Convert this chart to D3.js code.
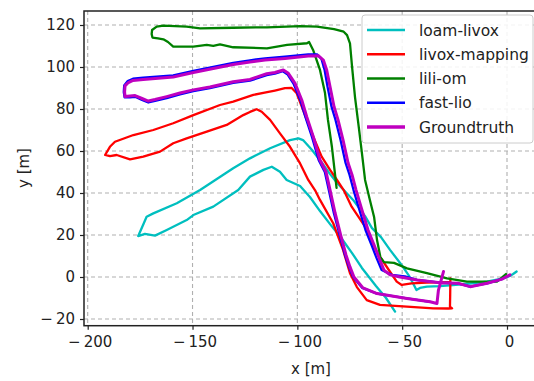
<!DOCTYPE html>
<html><head><meta charset="utf-8">
<script src="https://cdn.jsdelivr.net/npm/d3@7"></script>
<style>
html,body{margin:0;padding:0;background:#fff;}
svg{display:block;font-family:"DejaVu Sans",sans-serif;}
</style></head>
<body><svg id="c" width="534" height="381"></svg>
<script>
// ---- data (metres) ----
const seriesNames = ["loam-livox","livox-mapping","lili-om","fast-lio","Groundtruth"];
const seriesColors = ["#00bfbf","#ff0000","#008000","#0000ff","#bf00bf"];
const xTicks = [-200,-150,-100,-50,0];
const yTicks = [-20,0,20,40,60,80,100,120];

const loamLivox = [[4.6,2.6],[2.9,1.4],[1.4,0.5],[-1.9,-0.6],[-9.5,-2.2],[-17.6,-3.1],[-25.8,-3.8],[-32.0,-4.3],[-38.2,-4.6],[-41.5,-5.2],[-43.2,-6.2],[-44.4,-3.8],[-46.7,0.5],[-51.0,6.7],[-55.8,12.9],[-60.1,19.0],[-64.4,23.3],[-67.7,29.0],[-73.4,36.7],[-80.6,44.3],[-84.4,49.0],[-88.2,54.3],[-93.0,60.5],[-97.3,65.2],[-99.5,66.0],[-103.5,65.2],[-113.0,61.3],[-122.6,56.5],[-130.6,51.8],[-146.4,41.4],[-157.5,35.1],[-168.7,30.3],[-171.9,28.7],[-173.6,24.8],[-175.9,19.5],[-172.7,20.5],[-167.9,19.7],[-162.3,22.4],[-152.8,27.1],[-149.6,29.5],[-140.1,33.5],[-128.2,41.4],[-122.6,47.8],[-116.2,51.0],[-112.2,52.5],[-108.3,50.1],[-105.1,46.2],[-98.7,43.3],[-94.0,38.1],[-89.2,31.4],[-84.4,25.2],[-78.7,18.1],[-73.9,11.4],[-69.2,4.3],[-62.5,-4.3],[-57.7,-10.0],[-53.4,-16.5]];

const livoxMapping = [[-27.0,-0.7],[-27.1,-8.6],[-27.2,-14.1],[-26.2,-14.9],[-28.0,-15.0],[-35.2,-14.9],[-47.8,-14.1],[-60.6,-13.3],[-66.9,-11.0],[-71.6,-4.8],[-74.9,1.8],[-78.2,12.9],[-82.9,25.6],[-89.2,36.7],[-91.6,41.4],[-94.8,46.2],[-98.7,54.1],[-103.5,62.0],[-108.3,68.4],[-113.0,74.8],[-117.0,78.7],[-119.4,79.9],[-122.6,78.6],[-125.8,77.1],[-133.7,72.4],[-143.2,69.2],[-152.8,66.0],[-159.2,63.7],[-165.5,59.7],[-173.5,57.3],[-179.8,56.0],[-186.2,58.1],[-189.4,57.6],[-191.7,58.1],[-189.4,62.0],[-187.0,64.4],[-178.2,67.6],[-168.7,70.0],[-159.2,73.2],[-149.6,77.1],[-136.9,81.9],[-130.6,83.5],[-121.0,86.7],[-115.0,87.9],[-110.7,88.8],[-105.9,89.9],[-102.7,90.0],[-100.3,87.5],[-97.9,81.1],[-95.5,74.8],[-92.4,66.8],[-88.4,57.3],[-84.4,51.0],[-81.1,46.2],[-77.9,41.4],[-74.1,33.5],[-67.7,24.0],[-64.4,16.2],[-61.5,11.0],[-55.8,2.5],[-52.6,-2.2],[-50.2,-3.8],[-45.5,-3.0],[-38.3,-2.7],[-27.7,-2.4]];

const liliOm = [[-0.5,1.4],[-3.3,-1.0],[-4.8,-2.2],[-19.1,-2.2],[-28.6,-0.6],[-38.2,1.8],[-47.7,4.1],[-53.9,6.7],[-58.7,7.1],[-60.4,9.5],[-62.0,17.6],[-63.4,28.6],[-65.4,36.7],[-67.7,46.2],[-69.2,59.0],[-70.7,71.4],[-72.5,85.7],[-73.9,100.1],[-74.9,111.3],[-76.3,115.2],[-77.9,116.8],[-82.5,118.0],[-90.6,119.2],[-98.7,119.5],[-114.5,118.9],[-130.6,118.7],[-146.4,118.4],[-152.8,119.2],[-163.9,119.7],[-167.1,119.2],[-169.3,117.6],[-169.5,115.7],[-169.1,114.0],[-166.5,113.6],[-163.9,113.2],[-161.7,111.9],[-159.2,109.7],[-149.6,109.7],[-143.2,110.5],[-140.1,110.1],[-136.9,110.8],[-130.6,109.4],[-114.5,108.9],[-104.9,110.5],[-95.4,111.3],[-94.4,111.9],[-92.5,108.1],[-89.2,98.6],[-86.8,87.6],[-85.4,74.8],[-83.5,61.9],[-82.0,48.6],[-81.3,42.4]];

const fastLio = [[1.4,1.0],[-2.4,-1.0],[-9.5,-3.0],[-17.6,-4.6],[-23.4,-3.0],[-32.0,-2.7],[-42.9,-1.4],[-48.7,0.3],[-54.9,1.0],[-59.8,3.3],[-62.2,9.0],[-64.6,15.2],[-67.5,22.4],[-70.4,31.9],[-73.2,41.4],[-75.1,48.6],[-77.0,54.3],[-79.4,65.2],[-81.8,74.8],[-83.7,81.1],[-85.6,90.6],[-87.0,98.6],[-88.5,103.8],[-90.5,106.0],[-94.8,106.0],[-105.9,104.9],[-115.4,104.1],[-122.6,103.2],[-130.6,102.0],[-149.6,98.2],[-159.2,96.0],[-173.5,94.9],[-178.4,94.4],[-180.9,93.3],[-182.6,91.2],[-182.8,88.1],[-182.4,85.6],[-179.8,85.6],[-177.4,85.8],[-174.1,84.3],[-171.1,83.1],[-167.9,83.9],[-162.3,85.2],[-156.0,87.0],[-149.6,88.5],[-141.7,89.9],[-130.6,92.4],[-122.6,93.5],[-114.6,96.1],[-110.7,96.8],[-106.9,98.0],[-104.6,96.4],[-101.7,91.8],[-98.5,84.0],[-96.1,76.0],[-93.0,66.6],[-89.8,55.6],[-86.9,50.0],[-85.0,41.4],[-82.6,30.5],[-79.7,19.5],[-77.3,10.5],[-75.4,4.8],[-73.4,0.0],[-69.0,-5.2],[-62.0,-7.9],[-47.7,-10.2],[-36.7,-11.8]];

const groundtruth = [[1.4,1.0],[-2.4,-1.0],[-9.5,-3.0],[-17.6,-4.6],[-23.4,-3.0],[-32.0,-2.7],[-42.9,-1.4],[-51.0,0.0],[-55.8,1.0],[-58.7,3.3],[-61.0,9.0],[-63.4,15.2],[-66.3,22.4],[-69.2,31.9],[-72.0,41.4],[-73.9,48.6],[-75.8,54.3],[-78.2,65.2],[-80.6,74.8],[-82.5,81.1],[-84.4,90.6],[-86.0,98.6],[-87.6,103.3],[-90.0,105.4],[-94.8,105.2],[-105.9,104.1],[-115.4,103.3],[-122.6,102.4],[-130.6,101.2],[-149.6,97.4],[-159.2,95.2],[-173.5,94.0],[-178.4,93.6],[-180.6,92.6],[-182.2,91.0],[-182.4,88.1],[-182.2,85.9],[-179.8,86.2],[-177.4,86.4],[-174.1,85.0],[-171.1,83.8],[-167.9,84.5],[-162.3,85.9],[-156.0,87.6],[-149.6,89.1],[-141.7,90.5],[-130.6,93.0],[-122.6,94.1],[-114.6,96.8],[-110.7,97.4],[-106.7,98.6],[-104.3,97.0],[-101.1,92.2],[-97.9,84.3],[-95.5,76.2],[-92.4,66.8],[-89.2,55.7],[-86.3,50.0],[-84.4,41.4],[-82.0,30.5],[-79.2,19.5],[-76.8,10.5],[-74.9,4.8],[-73.0,0.0],[-68.7,-5.2],[-62.0,-7.9],[-47.7,-10.2],[-36.7,-11.8],[-33.4,-12.6],[-32.7,-6.2],[-30.3,2.6]];

const allSeries = [loamLivox, livoxMapping, liliOm, fastLio, groundtruth];
const seriesWidths = [2.3, 2.3, 2.3, 2.3, 3];

// ---- layout ----
const svg = d3.select("#c");
const frame = {left:84, right:538, top:11, bottom:325.7};
const x = d3.scaleLinear().domain([-200,0]).range([87.7,507]);
const y = d3.scaleLinear().domain([-20,120]).range([319,25]);

svg.append("defs").append("clipPath").attr("id","clip")
  .append("rect").attr("x",frame.left).attr("y",frame.top)
  .attr("width",frame.right-frame.left).attr("height",frame.bottom-frame.top);

// grid
const grid = svg.append("g");
grid.selectAll("line.gx").data(xTicks).join("line")
  .attr("x1",d=>x(d)).attr("x2",d=>x(d)).attr("y1",frame.top).attr("y2",frame.bottom)
  .attr("stroke","#b0b0b0").attr("stroke-width",1.1).attr("stroke-dasharray","4,3");
grid.selectAll("line.gy").data(yTicks).join("line")
  .attr("y1",d=>y(d)).attr("y2",d=>y(d)).attr("x1",frame.left).attr("x2",frame.right)
  .attr("stroke","#b0b0b0").attr("stroke-width",1.1).attr("stroke-dasharray","4,3");

// lines
const line = d3.line().x(d=>x(d[0])).y(d=>y(d[1])).curve(d3.curveLinear);
const lg = svg.append("g").attr("clip-path","url(#clip)");
allSeries.forEach((s,i)=>{
  lg.append("path").attr("d",line(s)).attr("fill","none")
    .attr("stroke",seriesColors[i]).attr("stroke-width",seriesWidths[i])
    .attr("stroke-linejoin","round").attr("stroke-linecap","round");
});

// frame
svg.append("rect").attr("x",frame.left).attr("y",frame.top)
  .attr("width",frame.right-frame.left).attr("height",frame.bottom-frame.top)
  .attr("fill","none").attr("stroke","#222").attr("stroke-width",1.5);

// axes
const fmt = d => d < 0 ? "\u2212\u2009" + Math.abs(d) : String(d);
const xAxis = d3.axisBottom(x).tickValues(xTicks).tickSize(4).tickPadding(7).tickFormat(fmt);
const yAxis = d3.axisLeft(y).tickValues(yTicks).tickSize(4).tickPadding(5).tickFormat(fmt);
const gx = svg.append("g").attr("transform",`translate(0,${frame.bottom})`).call(xAxis);
const gy = svg.append("g").attr("transform",`translate(${frame.left},0)`).call(yAxis);
[gx,gy].forEach(g=>{
  g.select(".domain").remove();
  g.selectAll(".tick line").attr("stroke","#222").attr("stroke-width",1.2);
  g.selectAll(".tick text").attr("fill","#222").style("font-size","15px")
    .style("font-family","'DejaVu Sans',sans-serif");
});
gx.selectAll(".tick text").attr("dx",2);

// axis labels
svg.append("text").attr("x",311).attr("y",374).attr("text-anchor","middle")
  .attr("fill","#222").style("font-size","15px").text("x [m]");
svg.append("text").attr("transform","translate(29,168) rotate(-90)").attr("text-anchor","middle")
  .attr("fill","#222").style("font-size","15px").text("y [m]");

// legend
const leg = svg.append("g");
leg.append("rect").attr("x",362).attr("y",15).attr("width",171).attr("height",128)
  .attr("rx",3).attr("fill","#fff").attr("fill-opacity",0.85)
  .attr("stroke","#cccccc").attr("stroke-width",1);
const rowY = d3.scaleLinear().domain([0,4]).range([30,127]);
seriesNames.forEach((n,i)=>{
  leg.append("line").attr("x1",367).attr("x2",405).attr("y1",rowY(i)).attr("y2",rowY(i))
    .attr("stroke",seriesColors[i]).attr("stroke-width",seriesWidths[i]+0.3);
  leg.append("text").attr("x",419).attr("y",rowY(i)+5.5).attr("fill","#222")
    .style("font-size","15.5px").text(n);
});
</script></body></html>
